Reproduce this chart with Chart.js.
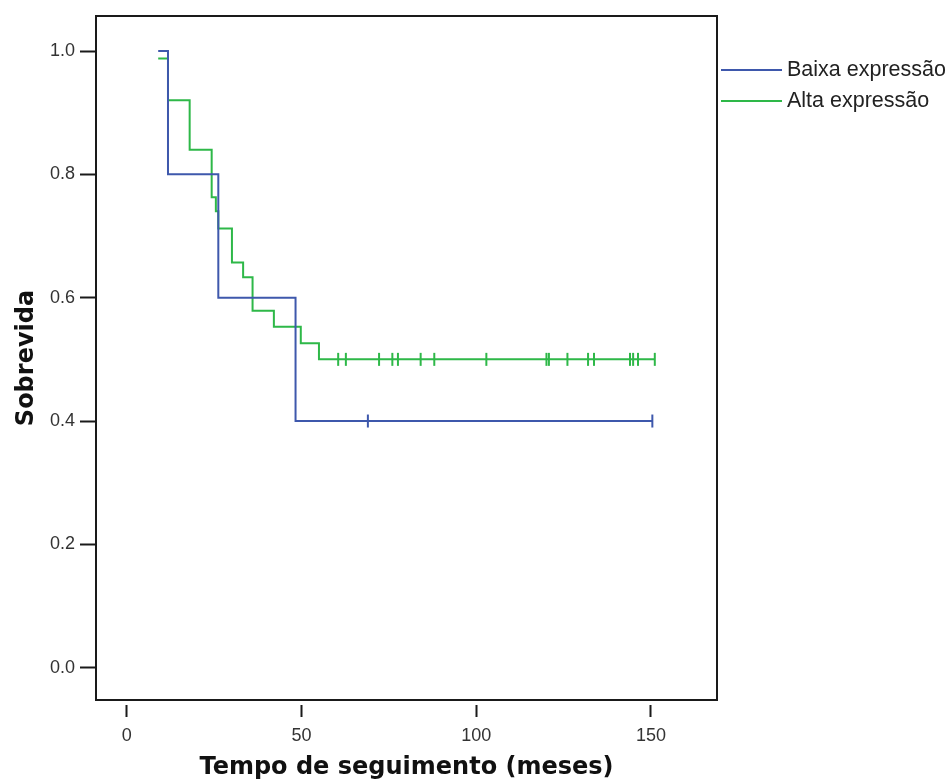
<!DOCTYPE html>
<html>
<head>
<meta charset="utf-8">
<script src="https://cdn.jsdelivr.net/npm/chart.js@4"></script>
<style>
  html, body { margin:0; padding:0; background:#fff; }
</style>
</head>
<body>
<canvas id="km" width="951" height="783"></canvas>
<script>
// --------------------
// DADOS (lidos do gráfico Kaplan-Meier)
// --------------------
const baixaTempo      = [9, 11.8, 26.2, 48.3, 150.4];
const baixaSobrevida  = [1.0, 0.8, 0.6, 0.4, 0.4];
const baixaCensTempo  = [69, 150.4];
const baixaCensSobr   = [0.4, 0.4];

const altaTempo       = [9, 11.8, 18, 24.3, 25.5, 26.2, 30.1, 33.3, 36, 42.1, 49.8, 55, 151.1];
const altaSobrevida   = [0.988, 0.92, 0.84, 0.763, 0.74, 0.712, 0.657, 0.633, 0.579, 0.553, 0.526, 0.5, 0.5];
const altaCensTempo   = [60.5, 62.7, 72.2, 76.0, 77.6, 84.1, 88.0, 102.9, 120.1, 120.8, 126.1, 132.0, 133.7, 144.0, 144.9, 146.3, 151.1];
const altaCensSobr    = [0.5, 0.5, 0.5, 0.5, 0.5, 0.5, 0.5, 0.5, 0.5, 0.5, 0.5, 0.5, 0.5, 0.5, 0.5, 0.5, 0.5];

const xTicks = [0, 50, 100, 150];
const yTicks = [0, 0.2, 0.4, 0.6, 0.8, 1.0];

const corBaixa = '#3E58AC';
const corAlta  = '#2EB848';

// helpers
function pts(xs, ys){ return xs.map((x,i)=>({x:x, y:ys[i]})); }

// --------------------
// PLUGINS: moldura + legenda
// --------------------
const moldura = {
  id:'moldura',
  afterDraw(chart){
    const a = chart.chartArea, ctx = chart.ctx;
    ctx.save();
    ctx.strokeStyle = '#1a1a1a';
    ctx.lineWidth = 2;
    ctx.strokeRect(a.left, a.top, a.right-a.left, a.bottom-a.top);
    ctx.restore();
  }
};

const legenda = {
  id:'legenda',
  afterDraw(chart){
    const ctx = chart.ctx, a = chart.chartArea;
    let y = 70;
    ctx.save();
    ctx.font = '21.5px "Liberation Sans", Arial, sans-serif';
    ctx.textBaseline = 'middle';
    chart.data.datasets.forEach(ds=>{
      if(!ds.legenda) return;
      ctx.strokeStyle = ds.borderColor;
      ctx.lineWidth = 2;
      ctx.beginPath(); ctx.moveTo(a.right+4, y); ctx.lineTo(a.right+65, y); ctx.stroke();
      ctx.fillStyle = '#222';
      ctx.fillText(ds.label, a.right+70, y);
      y += 31;
    });
    ctx.restore();
  }
};

// --------------------
// CHART
// --------------------
const tickFont = {family:'"Liberation Sans", Arial, sans-serif', size:18};
const titleFont = {family:'"DejaVu Sans", Verdana, sans-serif', size:24, weight:'bold'};

new Chart(document.getElementById('km').getContext('2d'), {
  type:'line',
  data:{ datasets:[
    {label:'Baixa expressão', legenda:true, data:pts(baixaTempo, baixaSobrevida),
     borderColor:corBaixa, borderWidth:2, stepped:true, pointRadius:0, fill:false},
    {label:'Alta expressão', legenda:true, data:pts(altaTempo, altaSobrevida),
     borderColor:corAlta, borderWidth:2, stepped:true, pointRadius:0, fill:false},
    {label:'Baixa censurado', data:pts(baixaCensTempo, baixaCensSobr), showLine:false,
     pointStyle:'line', rotation:90, pointRadius:6.5, borderColor:corBaixa, borderWidth:2},
    {label:'Alta censurado', data:pts(altaCensTempo, altaCensSobr), showLine:false,
     pointStyle:'line', rotation:90, pointRadius:6.5, borderColor:corAlta, borderWidth:2}
  ]},
  options:{
    responsive:false,
    animation:false,
    layout:{ padding:{top:16, right:234, left:0, bottom:0} },
    plugins:{ legend:{display:false}, tooltip:{enabled:false} },
    scales:{
      x:{
        type:'linear', min:-8.8, max:168.9,
        afterBuildTicks: s=>{ s.ticks = xTicks.map(v=>({value:v})); },
        afterFit: s=>{ s.height = 83; },
        ticks:{ font:tickFont, color:'#333', padding:8, maxRotation:0, autoSkip:false },
        grid:{ drawOnChartArea:false, drawTicks:true, tickLength:17, tickColor:'#1a1a1a', tickWidth:2, tickBorderDash:[0,5,12,40] },
        border:{ display:false },
        title:{ display:true, text:'Tempo de seguimento (meses)', font:titleFont, color:'#111', padding:{top:0, bottom:1} }
      },
      y:{
        type:'linear', min:-0.0524, max:1.0568,
        afterBuildTicks: s=>{ s.ticks = yTicks.map(v=>({value:v})); },
        afterFit: s=>{ s.width = 96; },
        ticks:{ font:tickFont, color:'#333', padding:5, callback:v=>v.toFixed(1) },
        grid:{ drawOnChartArea:false, drawTicks:true, tickLength:16, tickColor:'#1a1a1a', tickWidth:2 },
        border:{ display:false },
        title:{ display:true, text:'Sobrevida', font:titleFont, color:'#111', padding:{top:12, bottom:0} }
      }
    }
  },
  plugins:[moldura, legenda]
});
</script>
</body>
</html>
